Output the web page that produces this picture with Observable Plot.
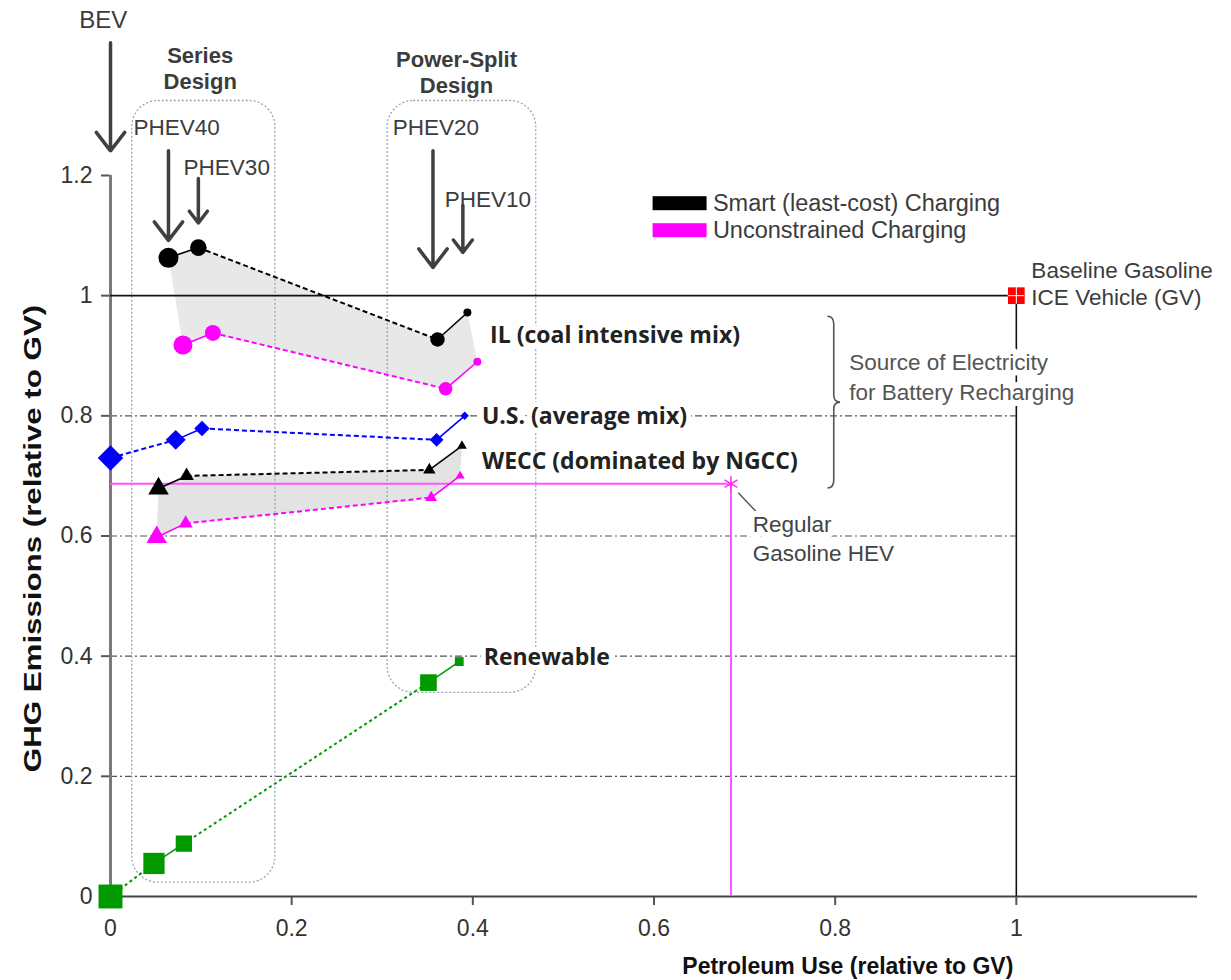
<!DOCTYPE html>
<html><head><meta charset="utf-8">
<script src="https://cdn.jsdelivr.net/npm/d3@7"></script>
<script src="https://cdn.jsdelivr.net/npm/@observablehq/plot@0.6"></script>
<style>
body{margin:0;background:#fff;}
#chart svg{display:block;}
g[aria-label="x-axis tick"] path, g[aria-label="y-axis tick"] path{stroke-width:2;stroke:#555;}
</style>
</head><body><div id="chart"></div>
<script>
// ---------- data ----------
const phevDesigns = ["PHEV40","PHEV30","PHEV20","PHEV10"];
const allDesigns = ["BEV","PHEV40","PHEV30","PHEV20","PHEV10"];
const designGroup = {BEV:"bev", PHEV40:"series", PHEV30:"series", PHEV20:"split", PHEV10:"split"};

// Petroleum use and GHG emissions, both relative to GV
const ilSmartPetroleum = [0.064, 0.097, 0.361, 0.394];
const ilSmartGHG       = [1.063, 1.080, 0.927, 0.972];
const ilUncPetroleum   = [0.080, 0.113, 0.370, 0.405];
const ilUncGHG         = [0.918, 0.938, 0.845, 0.890];
const usPetroleum      = [0.000, 0.072, 0.101, 0.360, 0.391];
const usGHG            = [0.730, 0.760, 0.779, 0.760, 0.800];
const weccSmartPetroleum = [0.053, 0.084, 0.352, 0.388];
const weccSmartGHG       = [0.679, 0.700, 0.710, 0.750];
const weccUncPetroleum   = [0.051, 0.083, 0.354, 0.386];
const weccUncGHG         = [0.598, 0.621, 0.664, 0.700];
const renewablePetroleum = [0.000, 0.048, 0.081, 0.351, 0.385];
const renewableGHG       = [0.000, 0.055, 0.088, 0.356, 0.391];
const hevPetroleum = 0.685, hevGHG = 0.687;
const gvPetroleum = 1.0, gvGHG = 1.0;

const xTicks = [0, 0.2, 0.4, 0.6, 0.8, 1];
const yTicks = [0, 0.2, 0.4, 0.6, 0.8, 1, 1.2];
const gridValues = [0.2, 0.4, 0.6, 0.8];
const legendLabels = ["Smart (least-cost) Charging", "Unconstrained Charging"];
const mixLabels = ["IL (coal intensive mix)", "U.S. (average mix)", "WECC (dominated by NGCC)", "Renewable"];

// ---------- build tables ----------
const series = (designs, xs, ys) => designs.map((d, i) => ({design: d, x: xs[i], y: ys[i]}));
const ilSmart = series(phevDesigns, ilSmartPetroleum, ilSmartGHG);
const ilUnc = series(phevDesigns, ilUncPetroleum, ilUncGHG);
const us = series(allDesigns, usPetroleum, usGHG);
const weccSmart = series(phevDesigns, weccSmartPetroleum, weccSmartGHG);
const weccUnc = series(phevDesigns, weccUncPetroleum, weccUncGHG);
const renewable = series(allDesigns, renewablePetroleum, renewableGHG);

const segs = (pts) => pts.slice(1).map((p, i) => ({
  x1: pts[i].x, y1: pts[i].y, x2: p.x, y2: p.y,
  dashed: designGroup[pts[i].design] !== designGroup[p.design]
}));

// marker radii (style)
const rCircleSmart = {PHEV40: 10, PHEV30: 8.3, PHEV20: 7.2, PHEV10: 4};
const rCircleUnc   = {PHEV40: 9.5, PHEV30: 8, PHEV20: 6.8, PHEV10: 4};
const rDiamond = {BEV: 11.5, PHEV40: 9, PHEV30: 7, PHEV20: 6.2, PHEV10: 3.8};
const rTriSmart = {PHEV40: 7.6, PHEV30: 5.4, PHEV20: 4.6, PHEV10: 3.6};
const rTriUnc   = {PHEV40: 7.6, PHEV30: 5.2, PHEV20: 4.4, PHEV10: 3.4};
const rSquare = {BEV: 13.5, PHEV40: 12, PHEV30: 9.2, PHEV20: 9.4, PHEV10: 5};

const BLACK = "#000", PINK = "#ff00ff", BLUE = "#0000ff", GREEN = "#009a00";
const TXT = "#3c3c3c";
const MIXFONT = "'Open Sans', Lato, sans-serif";

function lineMarks(pts, color, dash) {
  const s = segs(pts);
  return [
    Plot.link(s.filter(d => !d.dashed), {x1: "x1", y1: "y1", x2: "x2", y2: "y2", stroke: color, strokeWidth: 1.6}),
    Plot.link(s.filter(d => d.dashed), {x1: "x1", y1: "y1", x2: "x2", y2: "y2", stroke: color, strokeWidth: 2, strokeDasharray: dash})
  ];
}
function dotMarks(pts, color, symbol, rmap) {
  return Plot.dot(pts, {x: "x", y: "y", fill: color, symbol, r: d => rmap[d.design]});
}
const lab = (x, y, t, o = {}) => Plot.text([t], {x, y, text: d => d, fill: TXT, fontSize: 22.5, textAnchor: "start", ...o});

// brace annotation
function brace(index, scales) {
  const X = scales.x, Y = scales.y;
  const xa = X(0.792), xb = X(0.799), xt = X(0.806);
  const ya = Y(0.965), yb = Y(0.679), ym = (ya + yb) / 2;
  const p = document.createElementNS("http://www.w3.org/2000/svg", "path");
  p.setAttribute("d", `M${xa},${ya} Q${xb},${ya} ${xb},${ya + 8} L${xb},${ym - 7} Q${xb},${ym} ${xt},${ym} Q${xb},${ym} ${xb},${ym + 7} L${xb},${yb - 8} Q${xb},${yb} ${xa},${yb}`);
  p.setAttribute("fill", "none"); p.setAttribute("stroke", "#555"); p.setAttribute("stroke-width", "1.6");
  return p;
}
// stretched y-axis title
function yTitle(index, scales) {
  const t = document.createElementNS("http://www.w3.org/2000/svg", "text");
  t.setAttribute("transform", `translate(${scales.x(-0.085)},${scales.y(0.595)}) rotate(-90) scale(1.36,1)`);
  t.setAttribute("text-anchor", "middle");
  t.setAttribute("dy", "0.35em");
  t.setAttribute("font-weight", "bold");
  t.setAttribute("font-size", "23");
  t.setAttribute("fill", "#111");
  t.textContent = "GHG Emissions (relative to GV)";
  return t;
}

const chart = Plot.plot({
  width: 1231, height: 980,
  marginLeft: 110, marginRight: 34, marginTop: 175, marginBottom: 84,
  style: {fontFamily: "'Liberation Sans', Arial, sans-serif", fontSize: "23px", color: "#333", background: "white"},
  x: {domain: [0, 1.2], ticks: xTicks, tickSize: 9, tickPadding: 14, label: null, tickFormat: d => String(+d.toFixed(1))},
  y: {domain: [0, 1.2], ticks: yTicks, tickSize: 9, tickPadding: 9, label: null, tickFormat: d => String(+d.toFixed(1))},
  r: {type: "identity"},
  marks: [
    // shaded bands
    Plot.line([...ilSmart, ...ilUnc.slice().reverse()], {x: "x", y: "y", fill: "#e8e8e8", stroke: "none"}),
    Plot.line([...weccSmart, ...weccUnc.slice().reverse()], {x: "x", y: "y", fill: "#e3e3e3", stroke: "none"}),
    // gridlines
    Plot.ruleY(gridValues, {x1: 0, x2: gvPetroleum, stroke: "#555", strokeWidth: 1.2, strokeDasharray: "7,3,2,3"}),
    // design boxes
    Plot.rect([{x1: 0.024, x2: 0.182, y1: 0.023, y2: 1.324}, {x1: 0.306, x2: 0.470, y1: 0.339, y2: 1.324}],
      {x1: "x1", x2: "x2", y1: "y1", y2: "y2", fill: "none", stroke: "#97a6bb", strokeWidth: 1.3, strokeDasharray: "2,2", rx: 26}),
    // axes lines
    Plot.ruleX([0], {y1: 0, y2: 1.2, stroke: "#7a7a7a", strokeWidth: 3}),
    Plot.ruleY([0], {x1: 0, x2: 1.2, stroke: "#444", strokeWidth: 2}),
    // GV reference lines
    Plot.ruleY([gvGHG], {x1: 0, x2: gvPetroleum, stroke: "#111", strokeWidth: 1.6}),
    Plot.ruleX([gvPetroleum], {y1: 0, y2: gvGHG, stroke: "#111", strokeWidth: 1.6}),
    // HEV reference lines
    Plot.ruleY([hevGHG], {x1: 0, x2: hevPetroleum, stroke: "#ff55ff", strokeWidth: 2}),
    Plot.ruleX([hevPetroleum], {y1: 0, y2: hevGHG, stroke: "#ff55ff", strokeWidth: 2}),
    // series lines
    ...lineMarks(ilSmart, BLACK, "5,3"),
    ...lineMarks(ilUnc, PINK, "5,3"),
    ...lineMarks(us, BLUE, "5,3"),
    ...lineMarks(weccSmart, BLACK, "5,3"),
    ...lineMarks(weccUnc, PINK, "5,3"),
    ...lineMarks(renewable, GREEN, "3,3"),
    // markers
    dotMarks(ilSmart, BLACK, "circle", rCircleSmart),
    dotMarks(ilUnc, PINK, "circle", rCircleUnc),
    dotMarks(us, BLUE, "diamond2", rDiamond),
    dotMarks(weccSmart, BLACK, "triangle", rTriSmart),
    dotMarks(weccUnc, PINK, "triangle", rTriUnc),
    dotMarks(renewable, GREEN, "square", rSquare),
    // GV marker
    Plot.dot([{x: gvPetroleum, y: gvGHG}], {x: "x", y: "y", symbol: "square", fill: "#ff0000", r: 9.4}),
    Plot.ruleX([gvPetroleum], {y1: gvGHG - 0.014, y2: gvGHG + 0.014, stroke: "white", strokeWidth: 1}),
    Plot.ruleY([gvGHG], {x1: gvPetroleum - 0.009, x2: gvPetroleum + 0.009, stroke: "white", strokeWidth: 1}),
    // HEV marker + leader
    Plot.dot([{x: hevPetroleum, y: hevGHG}], {x: "x", y: "y", symbol: "asterisk", stroke: "#ff33ff", strokeWidth: 1.6, r: 7}),
    Plot.link([{x1: 0.693, y1: 0.672, x2: 0.715, y2: 0.637}], {x1: "x1", y1: "y1", x2: "x2", y2: "y2", stroke: "#555", strokeWidth: 1.4}),
    // design arrows
    Plot.arrow([
      {x: 0, y1: 1.421, y2: 1.241},
      {x: 0.064, y1: 1.241, y2: 1.092},
      {x: 0.097, y1: 1.195, y2: 1.121},
      {x: 0.356, y1: 1.241, y2: 1.047},
      {x: 0.389, y1: 1.150, y2: 1.072}
    ], {x1: "x", x2: "x", y1: "y1", y2: "y2", stroke: "#404040", strokeWidth: 3.5, headLength: 10, headAngle: 75}),
    // design labels
    lab(-0.008, 1.458, "BEV", {textAnchor: "middle", fontSize: 24}),
    lab(0.0254, 1.280, "PHEV40"),
    lab(0.0807, 1.213, "PHEV30"),
    lab(0.3116, 1.280, "PHEV20"),
    lab(0.369, 1.160, "PHEV10"),
    lab(0.099, 1.380, "Series\nDesign", {textAnchor: "middle", fontWeight: "bold", fontSize: 22, lineHeight: 1.2}),
    lab(0.382, 1.373, "Power-Split\nDesign", {textAnchor: "middle", fontWeight: "bold", fontSize: 22, lineHeight: 1.2}),
    // legend
    Plot.rect([{x1: 0.599, x2: 0.6586, y1: 1.1414, y2: 1.1647, c: BLACK}, {x1: 0.599, x2: 0.6586, y1: 1.0965, y2: 1.1198, c: PINK}],
      {x1: "x1", x2: "x2", y1: "y1", y2: "y2", fill: "c"}),
    lab(0.665, 1.153, legendLabels[0], {fontSize: 23.5}),
    lab(0.665, 1.108, legendLabels[1], {fontSize: 23.5}),
    // mix labels
    lab(0.419, 0.933, mixLabels[0], {fontFamily: MIXFONT, fontWeight: "bold", fontSize: 23, fill: "#222", stroke: "white", strokeWidth: 10}),
    lab(0.410, 0.799, mixLabels[1], {fontFamily: MIXFONT, fontWeight: "bold", fontSize: 23, fill: "#222", stroke: "white", strokeWidth: 10}),
    lab(0.410, 0.724, mixLabels[2], {fontFamily: MIXFONT, fontWeight: "bold", fontSize: 23, fill: "#222"}),
    lab(0.412, 0.398, mixLabels[3], {fontFamily: MIXFONT, fontWeight: "bold", fontSize: 23, fill: "#222", stroke: "white", strokeWidth: 10}),
    // other annotations
    brace,
    lab(0.8155, 0.867, "Source of Electricity\nfor Battery Recharging", {fill: "#555", lineHeight: 1.3, stroke: "white", strokeWidth: 12}),
    lab(1.0166, 1.0216, "Baseline Gasoline\nICE Vehicle (GV)", {lineHeight: 1.22}),
    lab(0.709, 0.598, "Regular\nGasoline HEV", {fill: "#444", lineHeight: 1.3, stroke: "white", strokeWidth: 12}),
    // axis titles
    lab(0.814, -0.116, "Petroleum Use (relative to GV)", {textAnchor: "middle", fontWeight: "bold", fontSize: 23, fill: "#111"}),
    yTitle
  ]
});
document.getElementById("chart").appendChild(chart);
</script>
</body></html>
